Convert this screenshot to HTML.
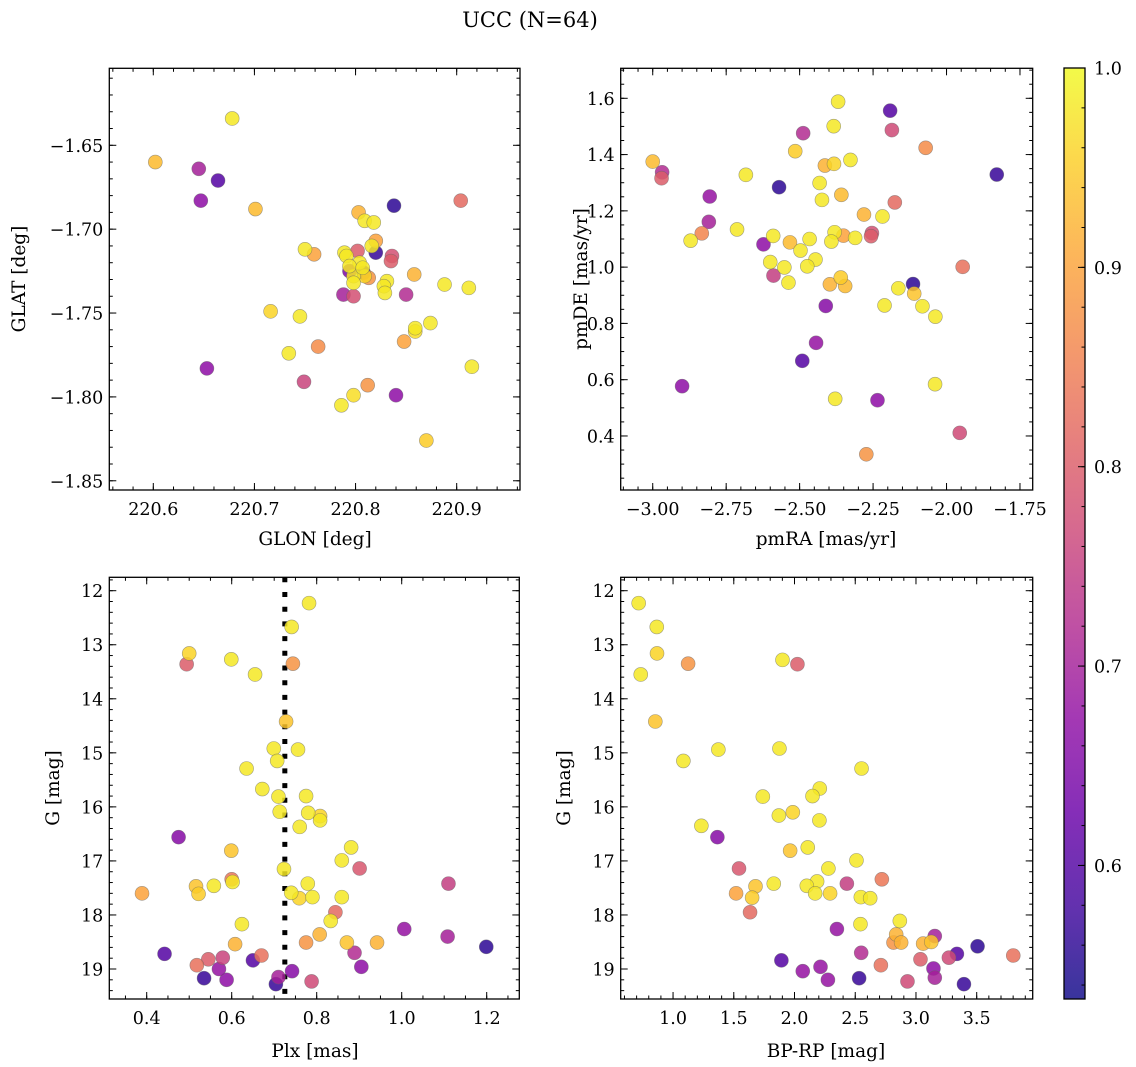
<!DOCTYPE html>
<html><head><meta charset="utf-8">
<style>
html,body{margin:0;padding:0;background:#fff;}
svg{display:block;font-family:"DejaVu Serif","Liberation Serif",serif;}
</style></head>
<body>
<svg id="fig" width="1136" height="1067" viewBox="0 0 1136 1067" xmlns="http://www.w3.org/2000/svg">
<text x="530" y="27" font-size="21" text-anchor="middle">UCC (N=64)</text>
<text x="315" y="545" font-size="18.5" text-anchor="middle">GLON [deg]</text>
<text transform="translate(25,279) rotate(-90)" font-size="18.5" text-anchor="middle">GLAT [deg]</text>
<text x="826" y="545" font-size="18.5" text-anchor="middle">pmRA [mas/yr]</text>
<text transform="translate(587,279) rotate(-90)" font-size="18.5" text-anchor="middle">pmDE [mas/yr]</text>
<text x="315" y="1057" font-size="18.5" text-anchor="middle">Plx [mas]</text>
<text transform="translate(59,788) rotate(-90)" font-size="18.5" text-anchor="middle">G [mag]</text>
<text x="826" y="1057" font-size="18.5" text-anchor="middle">BP-RP [mag]</text>
<text transform="translate(570,788) rotate(-90)" font-size="18.5" text-anchor="middle">G [mag]</text>
</svg>
<script>
// ---- Panel 1: GLON / GLAT ----
const p1x=[220.678,220.602,220.645,220.664,220.647,220.701,220.904,220.838,220.803,220.809,220.818,220.820,220.816,220.820,220.750,220.759,220.789,220.802,220.791,220.836,220.835,220.804,220.794,220.808,220.813,220.798,220.809,220.798,220.858,220.831,220.828,220.829,220.888,220.912,220.788,220.798,220.850,220.716,220.745,220.874,220.859,220.859,220.848,220.734,220.763,220.915,220.653,220.749,220.812,220.798,220.840,220.786,220.870,220.794,220.807];
const p1y=[-1.634,-1.660,-1.664,-1.671,-1.683,-1.688,-1.683,-1.686,-1.690,-1.695,-1.696,-1.707,-1.710,-1.714,-1.712,-1.715,-1.714,-1.713,-1.716,-1.716,-1.719,-1.720,-1.725,-1.726,-1.729,-1.728,-1.728,-1.732,-1.727,-1.731,-1.734,-1.738,-1.733,-1.735,-1.739,-1.740,-1.739,-1.749,-1.752,-1.756,-1.759,-1.761,-1.767,-1.774,-1.770,-1.782,-1.783,-1.791,-1.793,-1.799,-1.799,-1.805,-1.826,-1.722,-1.723];
const p1c=[0.98,0.93,0.70,0.60,0.67,0.93,0.82,0.56,0.92,0.98,0.98,0.90,0.98,0.57,0.98,0.90,0.98,0.80,0.98,0.78,0.80,0.98,0.65,0.58,0.88,0.98,0.96,0.98,0.92,0.98,0.98,0.98,0.98,0.98,0.70,0.78,0.72,0.96,0.98,0.98,0.98,0.97,0.90,0.98,0.87,0.98,0.67,0.76,0.88,0.97,0.67,0.98,0.95,0.98,0.98];
const p1xTicks=[220.6,220.7,220.8,220.9];
const p1yTicks=[-1.65,-1.70,-1.75,-1.80,-1.85];
// ---- Panel 2: pmRA / pmDE ----
const p2x=[-2.369,-2.192,-2.186,-2.384,-2.488,-2.071,-2.515,-3.000,-2.968,-2.970,-2.414,-2.383,-2.327,-2.683,-2.570,-1.829,-2.432,-2.358,-2.424,-2.806,-2.176,-2.281,-2.218,-2.809,-2.833,-2.871,-2.713,-2.590,-2.623,-2.533,-2.466,-2.381,-2.351,-2.311,-2.254,-2.257,-2.392,-2.497,-2.446,-2.600,-2.474,-2.552,-2.589,-2.538,-2.397,-2.360,-2.345,-1.945,-2.114,-2.164,-2.110,-2.082,-2.211,-2.038,-2.411,-2.444,-2.491,-2.900,-2.039,-2.379,-2.235,-1.955,-2.273];
const p2y=[1.588,1.556,1.487,1.501,1.476,1.424,1.412,1.375,1.337,1.316,1.361,1.367,1.381,1.328,1.284,1.329,1.299,1.257,1.239,1.251,1.230,1.187,1.180,1.161,1.120,1.094,1.134,1.111,1.081,1.088,1.100,1.124,1.112,1.104,1.121,1.110,1.091,1.059,1.027,1.018,1.003,0.999,0.970,0.945,0.939,0.963,0.933,1.001,0.940,0.925,0.906,0.861,0.864,0.824,0.862,0.731,0.667,0.577,0.584,0.532,0.527,0.411,0.335];
const p2c=[0.98,0.60,0.77,0.98,0.72,0.87,0.95,0.93,0.72,0.80,0.92,0.96,0.98,0.98,0.56,0.57,0.98,0.93,0.98,0.68,0.82,0.92,0.98,0.70,0.86,0.98,0.98,0.98,0.67,0.93,0.98,0.98,0.90,0.98,0.78,0.80,0.98,0.98,0.98,0.98,0.98,0.98,0.75,0.98,0.92,0.95,0.93,0.83,0.56,0.98,0.94,0.98,0.98,0.98,0.66,0.68,0.60,0.67,0.98,0.98,0.67,0.77,0.88];
const p2xTicks=[-3.00,-2.75,-2.50,-2.25,-2.00,-1.75];
const p2yTicks=[0.4,0.6,0.8,1.0,1.2,1.4,1.6];
// ---- Panel 3: Plx / G ----
const p3x=[0.782,0.741,0.500,0.494,0.599,0.744,0.655,0.728,0.699,0.756,0.707,0.635,0.672,0.710,0.775,0.713,0.780,0.808,0.808,0.760,0.475,0.881,0.599,0.859,0.901,0.723,1.110,0.600,0.602,0.516,0.558,0.779,0.389,0.522,0.740,0.759,0.790,0.859,0.844,0.833,0.624,1.006,1.108,0.807,0.775,0.871,0.942,0.608,1.199,0.442,0.889,0.670,0.545,0.579,0.650,0.518,0.570,0.742,0.905,0.535,0.710,0.588,0.788,0.704];
const p3y=[12.23,12.67,13.16,13.36,13.27,13.35,13.55,14.42,14.92,14.94,15.15,15.29,15.67,15.81,15.80,16.09,16.11,16.17,16.25,16.37,16.56,16.75,16.81,16.99,17.14,17.15,17.42,17.34,17.39,17.47,17.46,17.42,17.60,17.61,17.59,17.69,17.67,17.67,17.95,18.11,18.17,18.26,18.40,18.36,18.51,18.51,18.51,18.54,18.59,18.72,18.70,18.75,18.82,18.79,18.84,18.93,19.00,19.04,18.96,19.17,19.15,19.20,19.23,19.28];
const p3c=[0.98,0.98,0.96,0.80,0.98,0.88,0.98,0.94,0.98,0.98,0.98,0.98,0.98,0.98,0.98,0.98,0.98,0.96,0.98,0.98,0.66,0.98,0.94,0.98,0.79,0.98,0.75,0.84,0.98,0.94,0.98,0.98,0.90,0.95,0.98,0.96,0.98,0.98,0.82,0.98,0.98,0.68,0.70,0.92,0.88,0.94,0.92,0.92,0.56,0.60,0.72,0.83,0.80,0.76,0.60,0.83,0.68,0.66,0.67,0.57,0.70,0.67,0.77,0.57];
const p3xTicks=[0.4,0.6,0.8,1.0,1.2];
const gTicks=[12,13,14,15,16,17,18,19];
const plxLine=[0.725];
// ---- Panel 4: BP-RP / G ----
const p4x=[0.717,0.866,0.868,0.734,1.124,1.901,2.024,0.854,1.373,1.876,1.085,2.552,2.208,2.148,1.739,1.871,1.986,2.205,1.233,1.365,1.964,2.109,2.510,1.543,2.279,2.719,2.431,1.679,1.829,2.186,2.101,1.519,1.651,2.170,2.293,2.546,2.623,1.634,2.867,2.543,2.349,3.155,2.837,2.815,2.878,3.059,3.126,3.507,2.549,3.337,3.271,3.801,3.037,1.892,2.711,2.214,3.144,2.068,3.155,2.532,2.275,2.930,3.395];
const p4y=[12.23,12.67,13.16,13.55,13.35,13.28,13.36,14.42,14.94,14.92,15.15,15.29,15.66,15.80,15.81,16.16,16.10,16.25,16.35,16.56,16.81,16.75,16.99,17.14,17.14,17.34,17.42,17.47,17.42,17.38,17.46,17.60,17.68,17.60,17.60,17.67,17.69,17.95,18.11,18.17,18.26,18.39,18.36,18.51,18.51,18.53,18.50,18.58,18.70,18.72,18.79,18.75,18.82,18.84,18.93,18.96,18.99,19.04,19.16,19.17,19.20,19.23,19.28];
const p4c=[0.98,0.98,0.96,0.98,0.88,0.98,0.80,0.94,0.98,0.98,0.98,0.98,0.98,0.98,0.98,0.98,0.96,0.98,0.98,0.66,0.94,0.98,0.98,0.79,0.98,0.84,0.75,0.94,0.98,0.98,0.98,0.90,0.95,0.98,0.96,0.98,0.98,0.82,0.98,0.98,0.68,0.70,0.92,0.88,0.92,0.92,0.94,0.56,0.72,0.60,0.77,0.83,0.80,0.60,0.83,0.68,0.67,0.68,0.70,0.57,0.68,0.77,0.57];
const p4xTicks=[1.0,1.5,2.0,2.5,3.0,3.5];
// ---- Colorbar ----
const cbTicks=[0.6,0.7,0.8,0.9,1.0];
const cbMin=0.533, cbMax=1.0;

const NS="http://www.w3.org/2000/svg";
const fig=document.getElementById('fig');
function mk(tag,attrs,parent){const e=document.createElementNS(NS,tag);for(const k in attrs)e.setAttribute(k,attrs[k]);(parent||fig).appendChild(e);return e;}
const plasma=[[13,8,135],[65,4,157],[106,0,168],[143,13,164],[177,42,144],[204,71,120],[225,100,98],[242,132,75],[252,166,54],[252,206,37],[240,249,33]];
function cmap(v){let t=(v-cbMin)/(cbMax-cbMin);t=Math.max(0,Math.min(1,t));const s=t*10;const i=Math.min(9,Math.floor(s));const f=s-i;const a=plasma[i],b=plasma[i+1];return 'rgb('+[0,1,2].map(k=>Math.round(a[k]+(b[k]-a[k])*f)).join(',')+')';}
function fmt(v,d){let s=v.toFixed(d);return s.replace('-','\u2212');}
const TF=17.5;

function panel(cfg){
  const g=mk('g',{});
  
  
  const L=cfg.box[0],T=cfg.box[1],R=cfg.box[2],B=cfg.box[3];
  const sx=v=>L+(v-cfg.xd[0])/(cfg.xd[1]-cfg.xd[0])*(R-L);
  const sy=v=>T+(v-cfg.yd[0])/(cfg.yd[1]-cfg.yd[0])*(B-T);
  const tg=mk('g',{stroke:'#000','stroke-width':1},g);
  
  
  const xlo=Math.min(cfg.xd[0],cfg.xd[1]),xhi=Math.max(cfg.xd[0],cfg.xd[1]);
  const ylo=Math.min(cfg.yd[0],cfg.yd[1]),yhi=Math.max(cfg.yd[0],cfg.yd[1]);
  for(let v=Math.ceil(xlo/cfg.xm-1e-6)*cfg.xm;v<=xhi+1e-9;v+=cfg.xm){const x=sx(v);mk('line',{x1:x,x2:x,y1:B,y2:B-3.5},tg);mk('line',{x1:x,x2:x,y1:T,y2:T+3.5},tg);}
  for(let v=Math.ceil(ylo/cfg.ym-1e-6)*cfg.ym;v<=yhi+1e-9;v+=cfg.ym){const y=sy(v);mk('line',{x1:L,x2:L+3.5,y1:y,y2:y},tg);mk('line',{x1:R,x2:R-3.5,y1:y,y2:y},tg);}
  cfg.xt.forEach(v=>{const x=sx(v);mk('line',{x1:x,x2:x,y1:B,y2:B-7},tg);mk('line',{x1:x,x2:x,y1:T,y2:T+7},tg);
    const t=mk('text',{x:x,y:B+25,'font-size':TF,'text-anchor':'middle'},g);t.textContent=fmt(v,cfg.xdec);
    
    });
  cfg.yt.forEach(v=>{const y=sy(v);mk('line',{x1:L,x2:L+7,y1:y,y2:y},tg);mk('line',{x1:R,x2:R-7,y1:y,y2:y},tg);
    const t=mk('text',{x:L-6,y:y+6.5,'font-size':TF,'text-anchor':'end'},g);t.textContent=fmt(v,cfg.ydec);
    
    });
  if(cfg.vline){cfg.vline.forEach(v=>{const l=mk('line',{x1:sx(v),x2:sx(v),y1:T,y2:B,stroke:'#000','stroke-width':5,'stroke-dasharray':'5,9.7'},g);
    
    });}
  const pg=mk('g',{},g);
  
  
  const idx=cfg.x.map((_,i)=>i).sort((a,b)=>cfg.c[a]-cfg.c[b]);
  idx.forEach(i=>{const c=mk('circle',{cx:sx(cfg.x[i]),cy:sy(cfg.y[i]),r:7,fill:cmap(cfg.c[i]),'fill-opacity':0.85,stroke:'#666','stroke-opacity':0.6,'stroke-width':0.6},pg);
    
    });
  const fr=mk('rect',{x:L,y:T,width:R-L,height:B-T,fill:'none',stroke:'#000','stroke-width':1.3},g);
  
  
}
panel({name:'glon-glat-panel',box:[109.3,68.3,520,490],xd:[220.5565,220.9626],yd:[-1.6041,-1.8555],x:p1x,y:p1y,c:p1c,xt:p1xTicks,yt:p1yTicks,xm:0.02,ym:0.01,xdec:1,ydec:2});
panel({name:'pm-panel',box:[620.7,68.3,1032.7,490],xd:[-3.109,-1.7067],yd:[1.7066,0.208],x:p2x,y:p2y,c:p2c,xt:p2xTicks,yt:p2yTicks,xm:0.05,ym:0.05,xdec:2,ydec:1});
panel({name:'plx-g-panel',box:[109.3,577.3,519.3,999],xd:[0.312,1.2767],yd:[11.752,19.555],x:p3x,y:p3y,c:p3c,xt:p3xTicks,yt:gTicks,xm:0.05,ym:0.2,xdec:1,ydec:0,vline:plxLine});
panel({name:'cmd-panel',box:[620.7,577.3,1032.7,999],xd:[0.569,3.961],yd:[11.752,19.555],x:p4x,y:p4y,c:p4c,xt:p4xTicks,yt:gTicks,xm:0.1,ym:0.2,xdec:1,ydec:0});

(function(){
  const L=1064,R=1085,T=68,B=999;
  const cg=mk('g',{});
  
  
  const defs=mk('defs',{},cg);
  const lg=mk('linearGradient',{id:'cbg',x1:0,y1:1,x2:0,y2:0},defs);
  for(let k=0;k<=20;k++){const v=cbMin+(cbMax-cbMin)*k/20;mk('stop',{offset:k/20,'stop-color':cmap(v)},lg);}
  mk('rect',{x:L,y:T,width:R-L,height:B-T,fill:'url(#cbg)','fill-opacity':0.82},cg);
  const sy=v=>B-(v-cbMin)/(cbMax-cbMin)*(B-T);
  for(let v=0.54;v<=1.0001;v+=0.02){const y=sy(v);mk('line',{x1:R,x2:R-3.5,y1:y,y2:y,stroke:'#000','stroke-width':1},cg);}
  cbTicks.forEach(v=>{const y=sy(v);mk('line',{x1:R,x2:R-7,y1:y,y2:y,stroke:'#000','stroke-width':1},cg);
    const t=mk('text',{x:R+9,y:y+6.5,'font-size':TF},cg);t.textContent=v.toFixed(1);
    
    });
  mk('rect',{x:L,y:T,width:R-L,height:B-T,fill:'none',stroke:'#000','stroke-width':1.3},cg);
})();
</script>
</body></html>
